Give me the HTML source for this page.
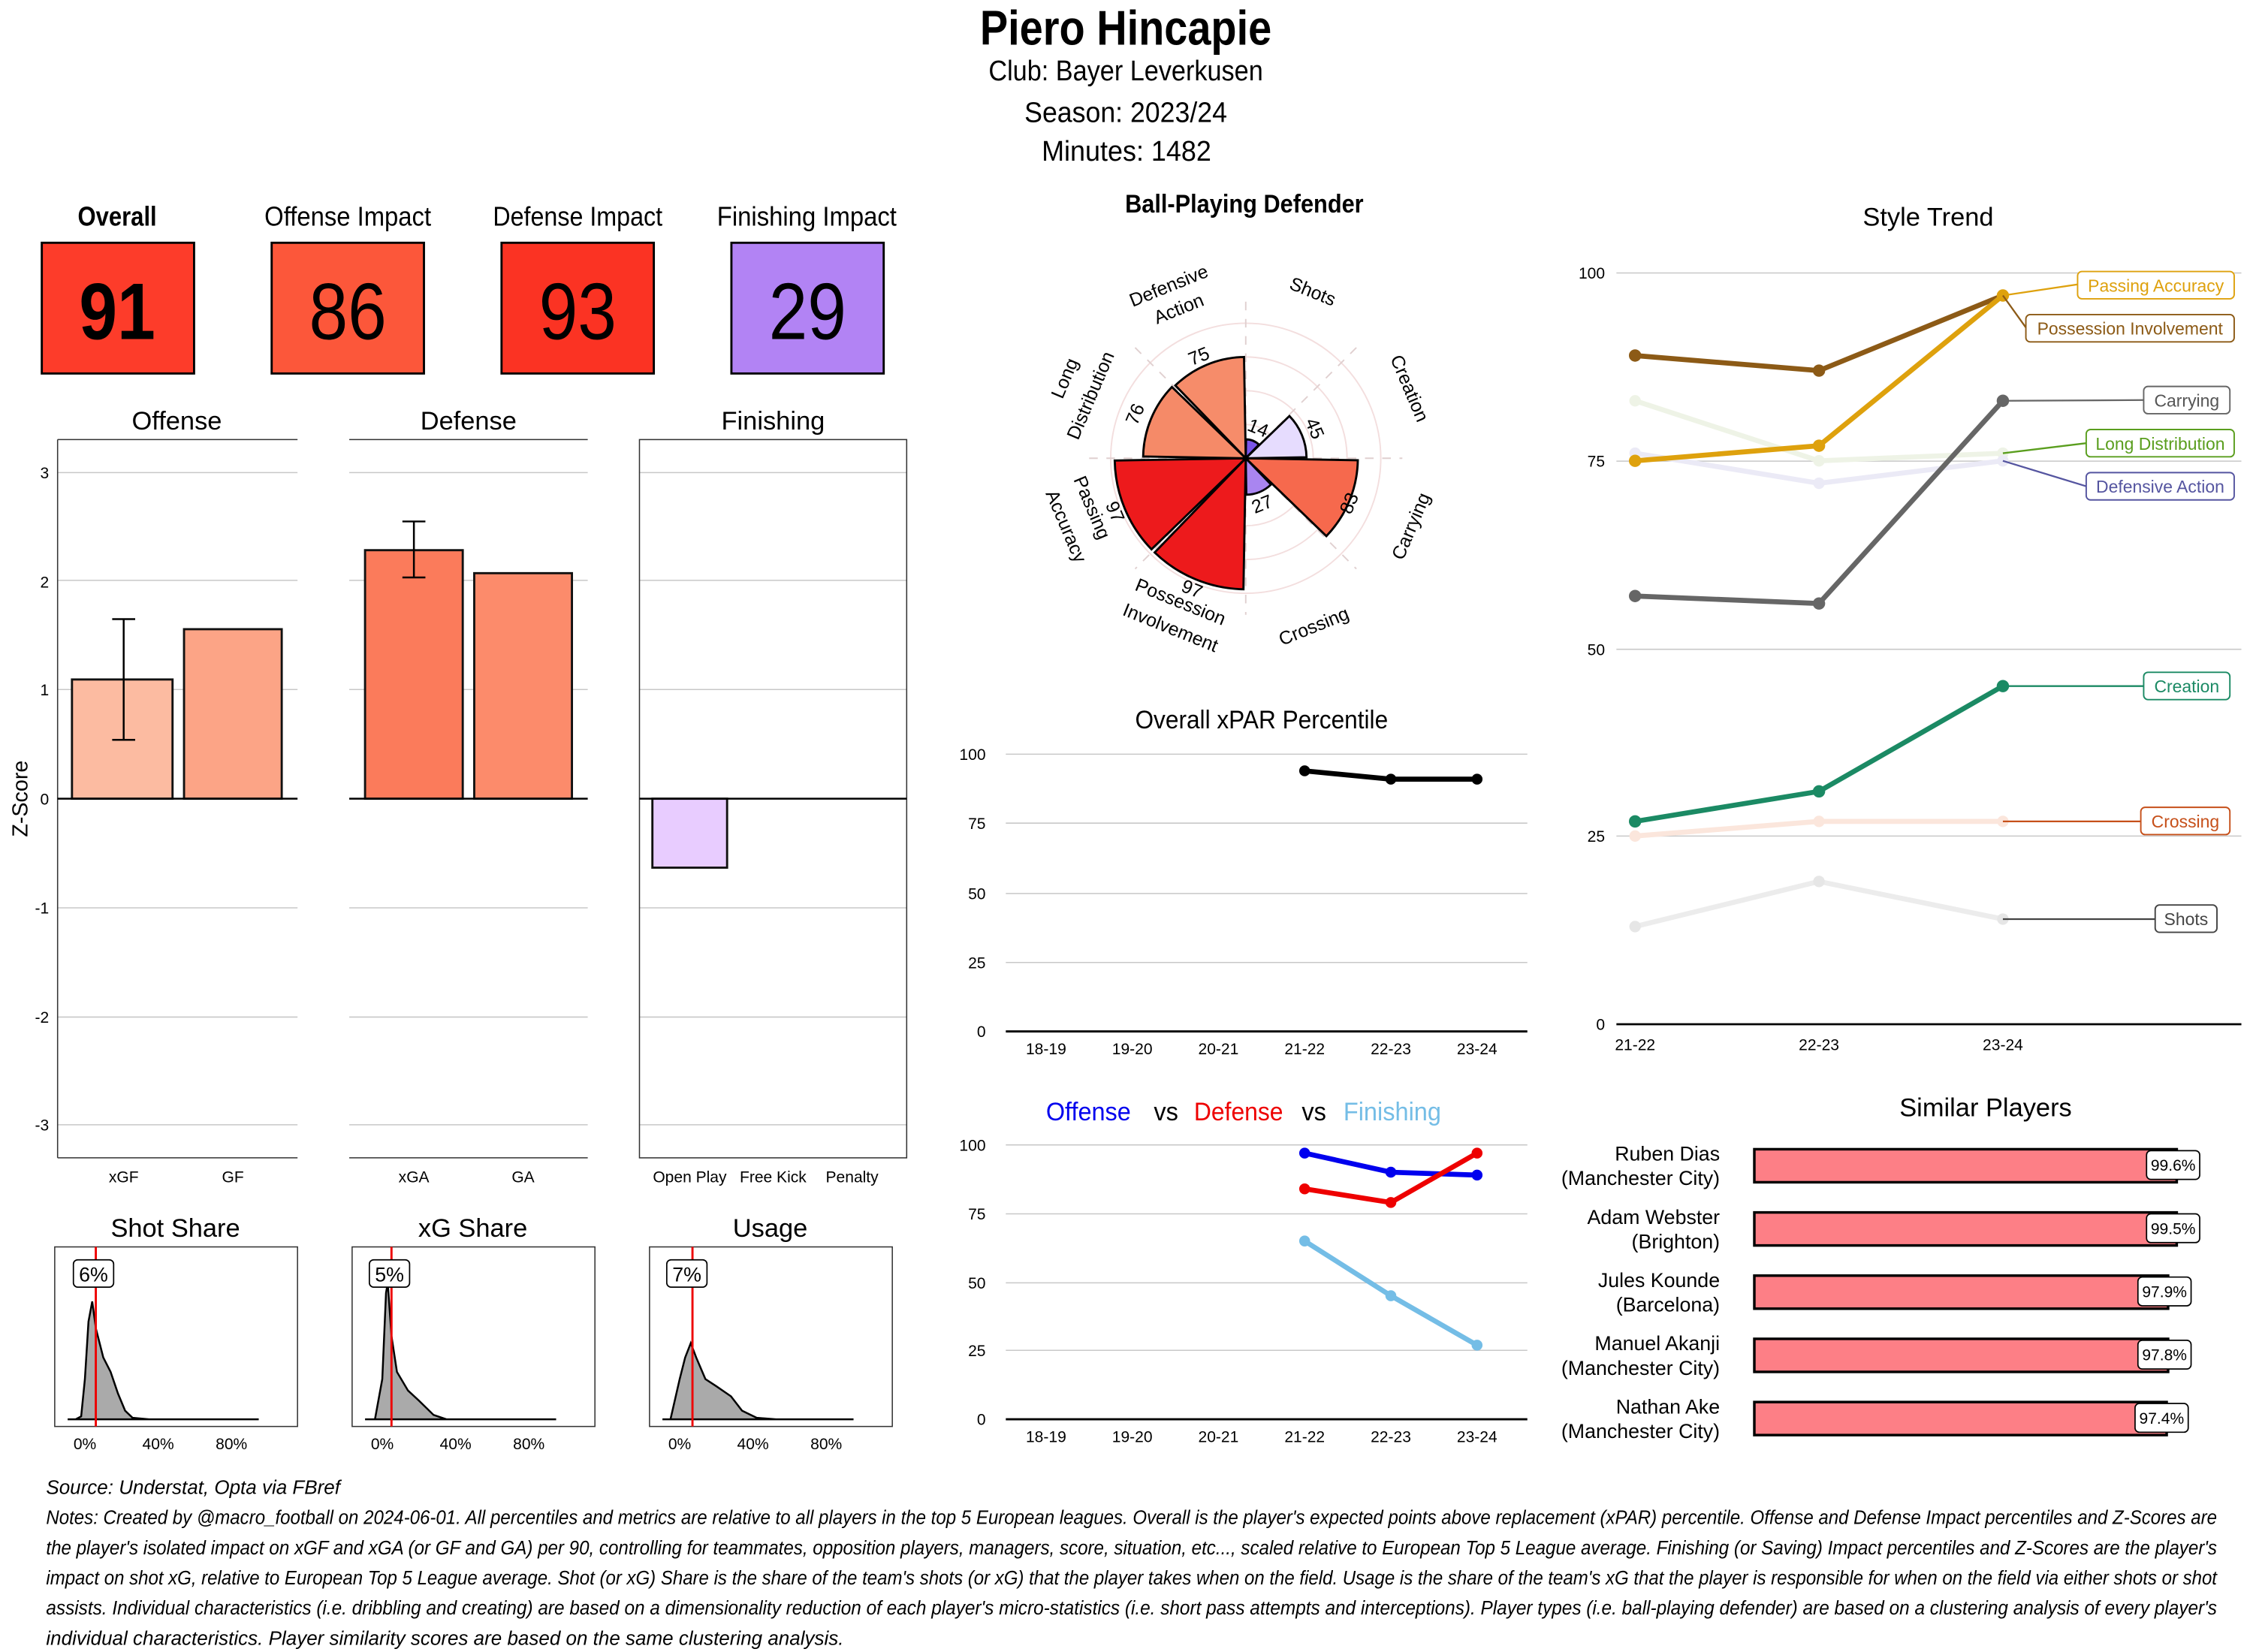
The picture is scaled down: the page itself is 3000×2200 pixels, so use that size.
<!DOCTYPE html>
<html><head><meta charset="utf-8"><style>
html,body{margin:0;padding:0;background:#fff}
svg{display:block}
text{font-family:"Liberation Sans Narrow","Liberation Sans",sans-serif;fill:#000}
.s{font-family:"Liberation Sans",sans-serif}
.tk{font-size:11px;fill:#444}
.g{stroke:#c8c8c8;stroke-width:0.8}
</style></head><body>
<svg width="3000" height="2200" viewBox="0 0 1568 1150" xmlns="http://www.w3.org/2000/svg">
<rect width="1568" height="1150" fill="#fff"/>
<!-- header -->
<text x="682" y="31" font-size="34" font-weight="bold" textLength="203" lengthAdjust="spacingAndGlyphs">Piero Hincapie</text>
<text x="688" y="56" font-size="20" textLength="191" lengthAdjust="spacingAndGlyphs">Club:  Bayer Leverkusen</text>
<text x="713" y="85" font-size="20" textLength="141" lengthAdjust="spacingAndGlyphs">Season:  2023/24</text>
<text x="725" y="112" font-size="20" textLength="118" lengthAdjust="spacingAndGlyphs">Minutes:  1482</text>

<!-- score boxes -->
<text x="54" y="157" font-size="19" font-weight="bold" textLength="55" lengthAdjust="spacingAndGlyphs">Overall</text>
<text x="184" y="157" font-size="19" textLength="116" lengthAdjust="spacingAndGlyphs">Offense Impact</text>
<text x="343" y="157" font-size="19" textLength="118" lengthAdjust="spacingAndGlyphs">Defense Impact</text>
<text x="499" y="157" font-size="19" textLength="125" lengthAdjust="spacingAndGlyphs">Finishing Impact</text>
<rect x="29" y="169" width="106" height="91" fill="#fd3c2a" stroke="#000" stroke-width="1.5"/>
<rect x="189" y="169" width="106" height="91" fill="#fc573a" stroke="#000" stroke-width="1.5"/>
<rect x="349" y="169" width="106" height="91" fill="#fb3323" stroke="#000" stroke-width="1.5"/>
<rect x="509" y="169" width="106" height="91" fill="#b283f4" stroke="#000" stroke-width="1.5"/>
<text x="55" y="236" font-size="56" font-weight="bold" textLength="53" lengthAdjust="spacingAndGlyphs">91</text>
<text x="215" y="236" font-size="56" textLength="54" lengthAdjust="spacingAndGlyphs">86</text>
<text x="375" y="236" font-size="56" textLength="54" lengthAdjust="spacingAndGlyphs">93</text>
<text x="535" y="236" font-size="56" textLength="54" lengthAdjust="spacingAndGlyphs">29</text>

<!-- Z-score panels -->
<text x="123" y="299" text-anchor="middle" font-size="18">Offense</text>
<text x="326" y="299" text-anchor="middle" font-size="18">Defense</text>
<text x="538" y="299" text-anchor="middle" font-size="18">Finishing</text>
<g class="g">
<line x1="40" x2="207" y1="329" y2="329"/><line x1="40" x2="207" y1="404" y2="404"/><line x1="40" x2="207" y1="480" y2="480"/><line x1="40" x2="207" y1="632" y2="632"/><line x1="40" x2="207" y1="708" y2="708"/><line x1="40" x2="207" y1="783" y2="783"/>
<line x1="243" x2="409" y1="329" y2="329"/><line x1="243" x2="409" y1="404" y2="404"/><line x1="243" x2="409" y1="480" y2="480"/><line x1="243" x2="409" y1="632" y2="632"/><line x1="243" x2="409" y1="708" y2="708"/><line x1="243" x2="409" y1="783" y2="783"/>
<line x1="445" x2="631" y1="329" y2="329"/><line x1="445" x2="631" y1="404" y2="404"/><line x1="445" x2="631" y1="480" y2="480"/><line x1="445" x2="631" y1="632" y2="632"/><line x1="445" x2="631" y1="708" y2="708"/><line x1="445" x2="631" y1="783" y2="783"/>
</g>
<g stroke="#333" stroke-width="0.8" fill="none">
<line x1="40" x2="207" y1="306" y2="306"/><line x1="40" x2="207" y1="806" y2="806"/><line x1="40" x2="40" y1="306" y2="806"/>
<line x1="243" x2="409" y1="306" y2="306"/><line x1="243" x2="409" y1="806" y2="806"/>
<rect x="445" y="306" width="186" height="500"/>
</g>
<g class="tk" text-anchor="end">
<text x="34" y="333">3</text><text x="34" y="409">2</text><text x="34" y="484">1</text><text x="34" y="560">0</text><text x="34" y="636">-1</text><text x="34" y="712">-2</text><text x="34" y="787">-3</text>
</g>
<text transform="translate(19,556) rotate(-90)" text-anchor="middle" font-size="15">Z-Score</text>
<rect x="50" y="473" width="70" height="83" fill="#fcbba1" stroke="#111" stroke-width="1.5"/>
<rect x="128" y="438" width="68" height="118" fill="#fca486" stroke="#111" stroke-width="1.5"/>
<rect x="254" y="383" width="68" height="173" fill="#fb7b5b" stroke="#111" stroke-width="1.5"/>
<rect x="330" y="399" width="68" height="157" fill="#fc8b6b" stroke="#111" stroke-width="1.5"/>
<rect x="454" y="556" width="52" height="48" fill="#e8ccff" stroke="#111" stroke-width="1.5"/>
<g stroke="#000" stroke-width="1.3">
<line x1="40" x2="207" y1="556" y2="556"/><line x1="243" x2="409" y1="556" y2="556"/><line x1="445" x2="631" y1="556" y2="556"/>
<line x1="86" x2="86" y1="431" y2="515"/><line x1="78" x2="94" y1="431" y2="431"/><line x1="78" x2="94" y1="515" y2="515"/>
<line x1="288" x2="288" y1="363" y2="402"/><line x1="280" x2="296" y1="363" y2="363"/><line x1="280" x2="296" y1="402" y2="402"/>
</g>
<g class="tk" text-anchor="middle">
<text x="86" y="823">xGF</text><text x="162" y="823">GF</text><text x="288" y="823">xGA</text><text x="364" y="823">GA</text>
<text x="480" y="823">Open Play</text><text x="538" y="823">Free Kick</text><text x="593" y="823">Penalty</text>
</g>

<!-- density panels -->
<text x="122" y="861" text-anchor="middle" font-size="18">Shot Share</text>
<text x="329" y="861" text-anchor="middle" font-size="18">xG Share</text>
<text x="536" y="861" text-anchor="middle" font-size="18">Usage</text>
<g fill="none" stroke="#333" stroke-width="0.8">
<rect x="38" y="868" width="169" height="125"/><rect x="245" y="868" width="169" height="125"/><rect x="452" y="868" width="169" height="125"/>
</g>
<path d="M47,988 L52.6,988 L56.4,986 L59,960 L61.5,920 L64.1,906 L66.7,925 L71.8,945 L76.9,955 L82,970 L87,982 L92.2,987 L103.6,988 L180,988 Z" fill="#aaa" stroke="#000" stroke-width="1.3"/>
<path d="M254,988 L260.9,988 L266,960 L268.6,900 L269.8,893 L272.4,930 L276.2,955 L283.9,968 L291.5,975 L301.7,985 L310.6,988 L387,988 Z" fill="#aaa" stroke="#000" stroke-width="1.3"/>
<path d="M461,988 L466.6,988 L473,960 L476.8,945 L480.7,935 L484.5,945 L490.9,960 L498.5,965 L508.7,972 L516.4,982 L526.6,987 L540,988 L594,988 Z" fill="#aaa" stroke="#000" stroke-width="1.3"/>
<g stroke="#e00" stroke-width="1.5"><line x1="66.6" x2="66.6" y1="868" y2="993"/><line x1="272.4" x2="272.4" y1="868" y2="993"/><line x1="481.9" x2="481.9" y1="868" y2="993"/></g>
<g fill="#fff" stroke="#000" stroke-width="0.9">
<rect x="51" y="877" width="28" height="19" rx="3"/><rect x="257" y="877" width="28" height="19" rx="3"/><rect x="464" y="877" width="28" height="19" rx="3"/>
</g>
<g font-size="14" text-anchor="middle"><text x="65" y="892">6%</text><text x="271" y="892">5%</text><text x="478" y="892">7%</text></g>
<g class="tk" text-anchor="middle">
<text x="59" y="1009">0%</text><text x="110" y="1009">40%</text><text x="161" y="1009">80%</text>
<text x="266" y="1009">0%</text><text x="317" y="1009">40%</text><text x="368" y="1009">80%</text>
<text x="473" y="1009">0%</text><text x="524" y="1009">40%</text><text x="575" y="1009">80%</text>
</g>

<!-- polar -->
<text x="783" y="148" font-size="18" font-weight="bold" textLength="166" lengthAdjust="spacingAndGlyphs">Ball-Playing Defender</text>
<g fill="none" stroke="#f3dede" stroke-width="1">
<circle cx="867" cy="319" r="23.5"/><circle cx="867" cy="319" r="47"/><circle cx="867" cy="319" r="70.5"/><circle cx="867" cy="319" r="94"/>
</g>
<g stroke="#e0d0d0" stroke-width="1" stroke-dasharray="6,6">
<line x1="867" y1="210" x2="867" y2="428"/><line x1="758" y1="319" x2="976" y2="319"/>
<line x1="790" y1="242" x2="944" y2="396"/><line x1="944" y1="242" x2="790" y2="396"/>
</g>
<g stroke="#000" stroke-width="1.5">
<path d="M867,319 L867.2,305.8 A13.2,13.2 0 0 1 876.2,309.5 Z" fill="#7a55e8"/>
<path d="M867,319 L897.4,289.6 A42.3,42.3 0 0 1 909.3,318.3 Z" fill="#e6dcfe"/>
<path d="M867,319 L945,320.4 A78,78 0 0 1 923.1,373.2 Z" fill="#f6694d"/>
<path d="M867,319 L884.6,337.3 A25.4,25.4 0 0 1 867.4,344.4 Z" fill="#a985f0"/>
<path d="M867,319 L865.4,410.2 A91.2,91.2 0 0 1 803.6,384.6 Z" fill="#ed1a1c"/>
<path d="M867,319 L801.4,382.4 A91.2,91.2 0 0 1 775.8,320.6 Z" fill="#ed1a1c"/>
<path d="M867,319 L795.6,317.8 A71.4,71.4 0 0 1 815.6,269.4 Z" fill="#f58a68"/>
<path d="M867,319 L818,268.3 A70.5,70.5 0 0 1 865.8,248.5 Z" fill="#f68c6a"/>
</g>
<g class="s" font-size="13" text-anchor="middle">
<text transform="translate(912,207) rotate(22)">Shots</text>
<text transform="translate(977,272) rotate(67)">Creation</text>
<text transform="translate(986,368) rotate(-67)">Carrying</text>
<text transform="translate(916,440) rotate(-22)">Crossing</text>
<text transform="translate(820,423) rotate(22)">Possession</text>
<text transform="translate(813,441) rotate(22)">Involvement</text>
<text transform="translate(756,355) rotate(67)">Passing</text>
<text transform="translate(738,368) rotate(67)">Accuracy</text>
<text transform="translate(745,265) rotate(-67)">Long</text>
<text transform="translate(763,277) rotate(-67)">Distribution</text>
<text transform="translate(815,203) rotate(-22)">Defensive</text>
<text transform="translate(822,219) rotate(-22)">Action</text>
<text transform="translate(836,252) rotate(-22)">75</text>
<text transform="translate(794,290) rotate(-67)">76</text>
<text transform="translate(772,358) rotate(67)">97</text>
<text transform="translate(828,414) rotate(22)">97</text>
<text transform="translate(943,352) rotate(-67)">83</text>
<text transform="translate(880,355) rotate(-22)">27</text>
<text transform="translate(911,300) rotate(67)">45</text>
<text transform="translate(874,302) rotate(22)">14</text>
</g>

<!-- Overall xPAR -->
<text x="790" y="507" font-size="18" textLength="176" lengthAdjust="spacingAndGlyphs">Overall xPAR Percentile</text>
<g class="g"><line x1="700" x2="1063" y1="525" y2="525"/><line x1="700" x2="1063" y1="573" y2="573"/><line x1="700" x2="1063" y1="622" y2="622"/><line x1="700" x2="1063" y1="670" y2="670"/></g>
<line x1="700" x2="1063" y1="718" y2="718" stroke="#000" stroke-width="1.5"/>
<g class="tk s" text-anchor="end"><text x="686" y="529">100</text><text x="686" y="577">75</text><text x="686" y="626">50</text><text x="686" y="674">25</text><text x="686" y="722">0</text></g>
<g class="tk s" text-anchor="middle"><text x="728" y="734">18-19</text><text x="788" y="734">19-20</text><text x="848" y="734">20-21</text><text x="908" y="734">21-22</text><text x="968" y="734">22-23</text><text x="1028" y="734">23-24</text></g>
<polyline points="908,536.6 968,542.4 1028,542.4" fill="none" stroke="#000" stroke-width="3.5"/>
<g fill="#000"><circle cx="908" cy="536.6" r="3.8"/><circle cx="968" cy="542.4" r="3.8"/><circle cx="1028" cy="542.4" r="3.8"/></g>

<!-- O vs D vs F -->
<text x="728" y="780" font-size="18" style="fill:#0000ee" textLength="59" lengthAdjust="spacingAndGlyphs">Offense</text>
<text x="803" y="780" font-size="18" textLength="17" lengthAdjust="spacingAndGlyphs">vs</text>
<text x="831" y="780" font-size="18" style="fill:#ee0000" textLength="62" lengthAdjust="spacingAndGlyphs">Defense</text>
<text x="906" y="780" font-size="18" textLength="17" lengthAdjust="spacingAndGlyphs">vs</text>
<text x="935" y="780" font-size="18" style="fill:#74bde6" textLength="68" lengthAdjust="spacingAndGlyphs">Finishing</text>
<g class="g"><line x1="700" x2="1063" y1="797" y2="797"/><line x1="700" x2="1063" y1="845" y2="845"/><line x1="700" x2="1063" y1="893" y2="893"/><line x1="700" x2="1063" y1="940" y2="940"/></g>
<line x1="700" x2="1063" y1="988" y2="988" stroke="#000" stroke-width="1.5"/>
<g class="tk s" text-anchor="end"><text x="686" y="801">100</text><text x="686" y="849">75</text><text x="686" y="897">50</text><text x="686" y="944">25</text><text x="686" y="992">0</text></g>
<g class="tk s" text-anchor="middle"><text x="728" y="1004">18-19</text><text x="788" y="1004">19-20</text><text x="848" y="1004">20-21</text><text x="908" y="1004">21-22</text><text x="968" y="1004">22-23</text><text x="1028" y="1004">23-24</text></g>
<polyline points="908,802.7 968,816 1028,818" fill="none" stroke="#0000ee" stroke-width="3.5"/>
<polyline points="908,827.6 968,837.1 1028,802.7" fill="none" stroke="#ee0000" stroke-width="3.5"/>
<polyline points="908,863.9 968,902 1028,936.4" fill="none" stroke="#74bde6" stroke-width="3.5"/>
<g fill="#0000ee"><circle cx="908" cy="802.7" r="3.8"/><circle cx="968" cy="816" r="3.8"/><circle cx="1028" cy="818" r="3.8"/></g>
<g fill="#ee0000"><circle cx="908" cy="827.6" r="3.8"/><circle cx="968" cy="837.1" r="3.8"/><circle cx="1028" cy="802.7" r="3.8"/></g>
<g fill="#74bde6"><circle cx="908" cy="863.9" r="3.8"/><circle cx="968" cy="902" r="3.8"/><circle cx="1028" cy="936.4" r="3.8"/></g>

<!-- Style trend -->
<text x="1342" y="157" text-anchor="middle" font-size="18">Style Trend</text>
<g class="g"><line x1="1125" x2="1560" y1="190" y2="190"/><line x1="1125" x2="1560" y1="321" y2="321"/><line x1="1125" x2="1560" y1="452" y2="452"/><line x1="1125" x2="1560" y1="582" y2="582"/></g>
<line x1="1125" x2="1560" y1="713" y2="713" stroke="#000" stroke-width="1.5"/>
<g class="tk s" text-anchor="end"><text x="1117" y="194">100</text><text x="1117" y="325">75</text><text x="1117" y="456">50</text><text x="1117" y="586">25</text><text x="1117" y="717">0</text></g>
<g class="tk s" text-anchor="middle"><text x="1138" y="731">21-22</text><text x="1266" y="731">22-23</text><text x="1394" y="731">23-24</text></g>
<g fill="none" stroke-width="3.5" stroke-linejoin="round">
<polyline points="1138,279 1266,320.8 1394,315.5" stroke="#eef3e6"/>
<polyline points="1138,315.5 1266,336.4 1394,320.8" stroke="#ebeaf6"/>
<polyline points="1138,582 1266,571.8 1394,571.8" stroke="#fbe6dc"/>
<polyline points="1138,645 1266,613.6 1394,639.8" stroke="#ececec"/>
<polyline points="1138,247.5 1266,258 1394,205.7" stroke="#8c5a16"/>
<polyline points="1138,320.8 1266,310.3 1394,205.7" stroke="#dea10d"/>
<polyline points="1138,414.9 1266,420.1 1394,279" stroke="#666"/>
<polyline points="1138,571.8 1266,550.9 1394,477.6" stroke="#1b8a64"/>
</g>
<g>
<circle cx="1138" cy="279" r="4" fill="#eef3e6"/><circle cx="1266" cy="320.8" r="4" fill="#eef3e6"/><circle cx="1394" cy="315.5" r="4" fill="#eef3e6"/>
<circle cx="1138" cy="315.5" r="4" fill="#ebeaf6"/><circle cx="1266" cy="336.4" r="4" fill="#ebeaf6"/><circle cx="1394" cy="320.8" r="4" fill="#ebeaf6"/>
<circle cx="1138" cy="582" r="4" fill="#fbe6dc"/><circle cx="1266" cy="571.8" r="4" fill="#fbe6dc"/><circle cx="1394" cy="571.8" r="4" fill="#fbe6dc"/>
<circle cx="1138" cy="645" r="4" fill="#e6e6e6"/><circle cx="1266" cy="613.6" r="4" fill="#e6e6e6"/><circle cx="1394" cy="639.8" r="4" fill="#e6e6e6"/>
<circle cx="1138" cy="247.5" r="4.3" fill="#8c5a16"/><circle cx="1266" cy="258" r="4.3" fill="#8c5a16"/>
<circle cx="1138" cy="320.8" r="4.3" fill="#dea10d"/><circle cx="1266" cy="310.3" r="4.3" fill="#dea10d"/><circle cx="1394" cy="205.7" r="4.3" fill="#dea10d"/>
<circle cx="1138" cy="414.9" r="4.3" fill="#666"/><circle cx="1266" cy="420.1" r="4.3" fill="#666"/><circle cx="1394" cy="279" r="4.3" fill="#666"/>
<circle cx="1138" cy="571.8" r="4.3" fill="#1b8a64"/><circle cx="1266" cy="550.9" r="4.3" fill="#1b8a64"/><circle cx="1394" cy="477.6" r="4.3" fill="#1b8a64"/>
</g>
<g fill="none" stroke-width="1.2">
<polyline points="1394,205.7 1446,198" stroke="#dea10d"/>
<polyline points="1394,205.7 1410,228" stroke="#8c5a16"/>
<polyline points="1394,279 1492,278.5" stroke="#666"/>
<polyline points="1394,315.5 1452,308.5" stroke="#5a9e1e"/>
<polyline points="1394,320.8 1452,338.5" stroke="#5555a0"/>
<polyline points="1394,477.6 1492,477.6" stroke="#1b8a64"/>
<polyline points="1394,571.8 1490,571.8" stroke="#c6501a"/>
<polyline points="1394,639.8 1500,639.8" stroke="#444"/>
</g>
<g fill="#fff" stroke-width="1">
<rect x="1446" y="189" width="109" height="19" rx="3" stroke="#dea10d"/>
<rect x="1410" y="219" width="145" height="19" rx="3" stroke="#8c5a16"/>
<rect x="1492" y="269" width="60" height="19" rx="3" stroke="#666"/>
<rect x="1452" y="299" width="103" height="19" rx="3" stroke="#5a9e1e"/>
<rect x="1452" y="329" width="103" height="19" rx="3" stroke="#5555a0"/>
<rect x="1492" y="468" width="60" height="19" rx="3" stroke="#1b8a64"/>
<rect x="1490" y="562" width="62" height="19" rx="3" stroke="#c6501a"/>
<rect x="1500" y="630" width="43" height="19" rx="3" stroke="#444"/>
</g>
<g class="s" font-size="12" text-anchor="middle">
<text x="1500.5" y="203" style="fill:#dea10d">Passing Accuracy</text>
<text x="1482.5" y="233" style="fill:#8c5a16">Possession Involvement</text>
<text x="1522" y="283" style="fill:#555">Carrying</text>
<text x="1503.5" y="313" style="fill:#5a9e1e">Long Distribution</text>
<text x="1503.5" y="343" style="fill:#5555a0">Defensive Action</text>
<text x="1522" y="482" style="fill:#1b8a64">Creation</text>
<text x="1521" y="576" style="fill:#c6501a">Crossing</text>
<text x="1521.5" y="644" style="fill:#444">Shots</text>
</g>

<!-- Similar players -->
<text x="1382" y="777" text-anchor="middle" font-size="18">Similar Players</text>
<g fill="#fd7f86" stroke="#000" stroke-width="1.8">
<rect x="1221" y="800" width="294" height="23"/>
<rect x="1221" y="844" width="294" height="23"/>
<rect x="1221" y="888" width="288" height="23"/>
<rect x="1221" y="932" width="288" height="23"/>
<rect x="1221" y="976" width="287" height="23"/>
</g>
<g fill="#fff" stroke="#000" stroke-width="0.9">
<rect x="1494" y="801" width="37" height="20" rx="3"/><rect x="1494" y="845" width="37" height="20" rx="3"/>
<rect x="1488" y="889" width="37" height="20" rx="3"/><rect x="1488" y="933" width="37" height="20" rx="3"/><rect x="1486" y="977" width="37" height="20" rx="3"/>
</g>
<g font-size="11" text-anchor="middle">
<text x="1512.5" y="815">99.6%</text><text x="1512.5" y="859">99.5%</text><text x="1506.5" y="903">97.9%</text><text x="1506.5" y="947">97.8%</text><text x="1504.5" y="991">97.4%</text>
</g>
<g font-size="14" text-anchor="end">
<text x="1197" y="808">Ruben Dias</text><text x="1197" y="825">(Manchester City)</text>
<text x="1197" y="852">Adam Webster</text><text x="1197" y="869">(Brighton)</text>
<text x="1197" y="896">Jules Kounde</text><text x="1197" y="913">(Barcelona)</text>
<text x="1197" y="940">Manuel Akanji</text><text x="1197" y="957">(Manchester City)</text>
<text x="1197" y="984">Nathan Ake</text><text x="1197" y="1001">(Manchester City)</text>
</g>

<!-- notes -->
<g font-size="13.6" font-style="italic">
<text x="32" y="1040">Source: Understat, Opta via FBref</text>
<text x="32" y="1061" textLength="1511" lengthAdjust="spacingAndGlyphs">Notes: Created by @macro_football on 2024-06-01. All percentiles and metrics are relative to all players in the top 5 European leagues. Overall is the player's expected points above replacement (xPAR) percentile. Offense and Defense Impact percentiles and Z-Scores are</text>
<text x="32" y="1082" textLength="1511" lengthAdjust="spacingAndGlyphs">the player's isolated impact on xGF and xGA (or GF and GA) per 90, controlling for teammates, opposition players, managers, score, situation, etc..., scaled relative to European Top 5 League average. Finishing (or Saving) Impact percentiles and Z-Scores are the player's</text>
<text x="32" y="1103" textLength="1511" lengthAdjust="spacingAndGlyphs">impact on shot xG, relative to European Top 5 League average. Shot (or xG) Share is the share of the team's shots (or xG) that the player takes when on the field. Usage is the share of the team's xG that the player is responsible for when on the field via either shots or shot</text>
<text x="32" y="1124" textLength="1511" lengthAdjust="spacingAndGlyphs">assists. Individual characteristics (i.e. dribbling and creating) are based on a dimensionality reduction of each player's micro-statistics (i.e. short pass attempts and interceptions). Player types (i.e. ball-playing defender) are based on a clustering analysis of every player's</text>
<text x="32" y="1145">individual characteristics. Player similarity scores are based on the same clustering analysis.</text>
</g>
</svg>
</body></html>
